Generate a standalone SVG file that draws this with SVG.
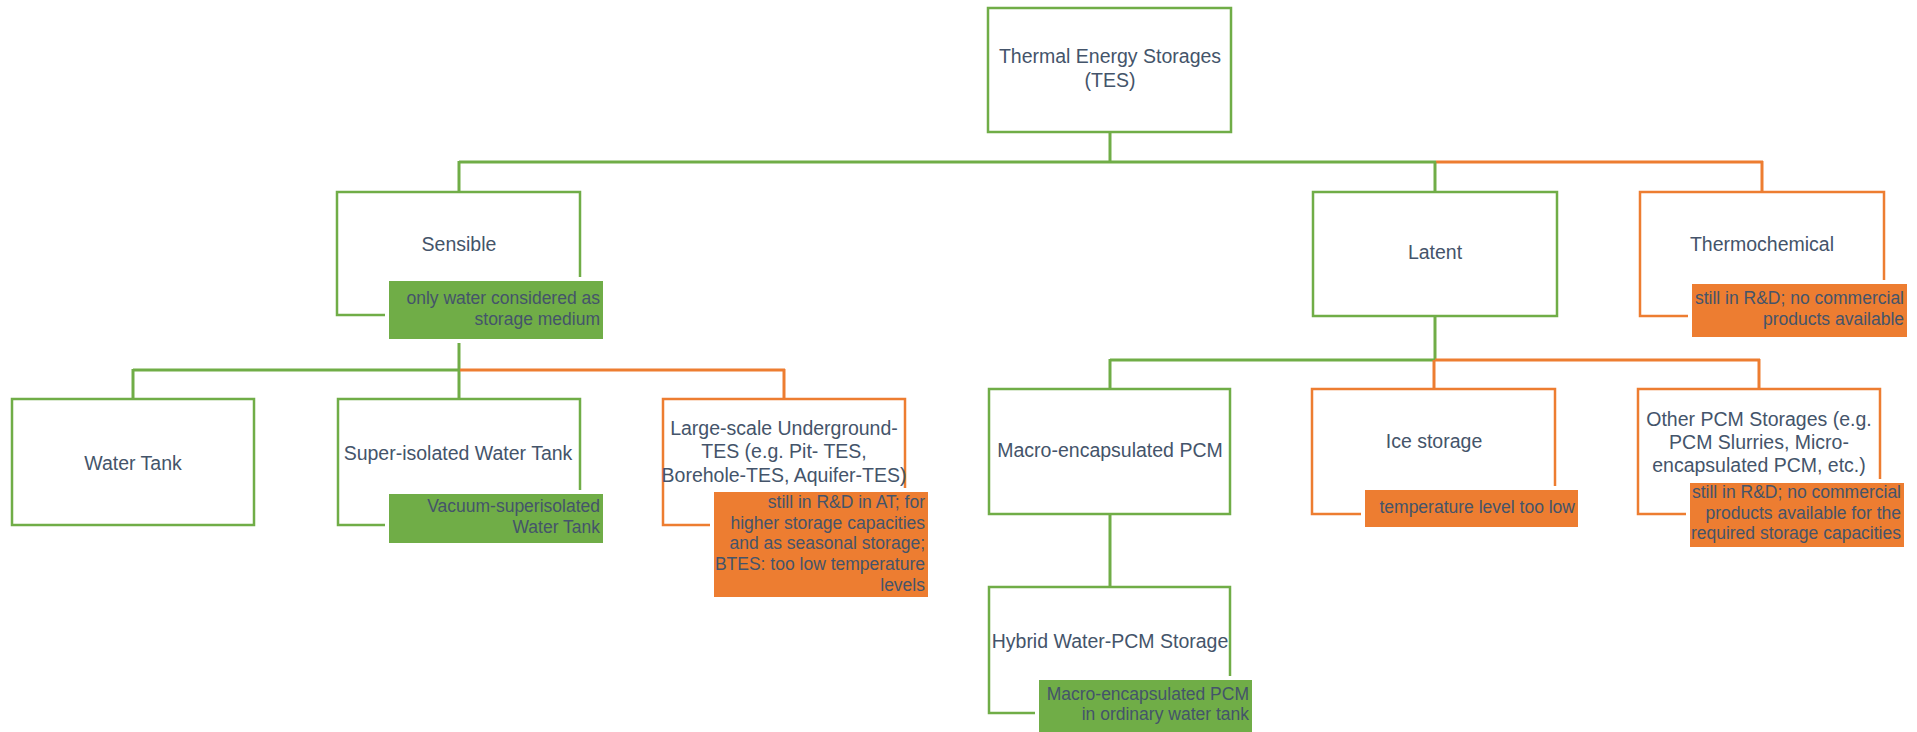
<svg xmlns="http://www.w3.org/2000/svg" width="1917" height="732" viewBox="0 0 1917 732">
<style>
  .bg{fill:#ffffff}
  .g{fill:#ffffff;stroke:#70AD47;stroke-width:2.5}
  .o{fill:#ffffff;stroke:#ED7D31;stroke-width:2.5}
  .cg{stroke:#70AD47;stroke-width:3;fill:none}
  .co{stroke:#ED7D31;stroke-width:3;fill:none}
  .ng{fill:#70AD47;stroke:#ffffff;stroke-width:8;paint-order:stroke}
  .no{fill:#ED7D31;stroke:#ffffff;stroke-width:8;paint-order:stroke}
  .t{font-family:"Liberation Sans",Arial,sans-serif;font-size:19.5px;fill:#44546A;text-anchor:middle}
  .n{font-family:"Liberation Sans",Arial,sans-serif;font-size:17.5px;fill:#44546A;text-anchor:end}
</style>
<rect class="bg" x="0" y="0" width="1917" height="732"/>
<g id="connectors">
  <line class="cg" x1="1110" y1="132" x2="1110" y2="162"/>
  <line class="cg" x1="459" y1="162" x2="1436" y2="162"/>
  <line class="co" x1="1436" y1="162" x2="1763" y2="162"/>
  <line class="cg" x1="459" y1="161" x2="459" y2="192"/>
  <line class="cg" x1="1435" y1="162" x2="1435" y2="192"/>
  <line class="co" x1="1762" y1="161" x2="1762" y2="192"/>
  <line class="cg" x1="459" y1="343" x2="459" y2="399"/>
  <line class="cg" x1="133" y1="370" x2="460" y2="370"/>
  <line class="co" x1="460" y1="370" x2="785" y2="370"/>
  <line class="cg" x1="133" y1="369" x2="133" y2="399"/>
  <line class="co" x1="784" y1="369" x2="784" y2="399"/>
  <line class="cg" x1="1435" y1="316" x2="1435" y2="360"/>
  <line class="cg" x1="1110" y1="360" x2="1435" y2="360"/>
  <line class="co" x1="1435" y1="360" x2="1760" y2="360"/>
  <line class="cg" x1="1110" y1="359" x2="1110" y2="389"/>
  <line class="co" x1="1434" y1="360" x2="1434" y2="389"/>
  <line class="co" x1="1759" y1="359" x2="1759" y2="389"/>
  <line class="cg" x1="1110" y1="514" x2="1110" y2="587"/>
</g>
<g id="tes">
  <rect class="g" x="988" y="8" width="243" height="124"/>
  <text class="t" x="1110" y="63">Thermal Energy Storages</text>
  <text class="t" x="1110" y="87">(TES)</text>
</g>
<g id="sensible">
  <rect class="g" x="337" y="192" width="243" height="123"/>
  <text class="t" x="459" y="251">Sensible</text>
  <rect class="ng" x="389" y="281" width="214" height="58"/>
  <text class="n" x="600" y="304">only water considered as</text>
  <text class="n" x="600" y="325">storage medium</text>
</g>
<g id="latent">
  <rect class="g" x="1313" y="192" width="244" height="124"/>
  <text class="t" x="1435" y="259">Latent</text>
</g>
<g id="thermochemical">
  <rect class="o" x="1640" y="192" width="244" height="124"/>
  <text class="t" x="1762" y="251">Thermochemical</text>
  <rect class="no" x="1692" y="284" width="215" height="53"/>
  <text class="n" x="1904" y="304">still in R&amp;D; no commercial</text>
  <text class="n" x="1904" y="325">products available</text>
</g>
<g id="water-tank">
  <rect class="g" x="12" y="399" width="242" height="126"/>
  <text class="t" x="133" y="470">Water Tank</text>
</g>
<g id="super-isolated">
  <rect class="g" x="338" y="399" width="242" height="126"/>
  <text class="t" x="458" y="460">Super-isolated Water Tank</text>
  <rect class="ng" x="389" y="494" width="214" height="49"/>
  <text class="n" x="600" y="512">Vacuum-superisolated</text>
  <text class="n" x="600" y="533">Water Tank</text>
</g>
<g id="large-scale">
  <rect class="o" x="663" y="399" width="242" height="126"/>
  <text class="t" x="784" y="435">Large-scale Underground-</text>
  <text class="t" x="784" y="458">TES (e.g. Pit- TES,</text>
  <text class="t" x="784" y="482">Borehole-TES, Aquifer-TES)</text>
  <rect class="no" x="714" y="492" width="214" height="105"/>
  <text class="n" x="925" y="508">still in R&amp;D in AT; for</text>
  <text class="n" x="925" y="529">higher storage capacities</text>
  <text class="n" x="925" y="549">and as seasonal storage;</text>
  <text class="n" x="925" y="570">BTES: too low temperature</text>
  <text class="n" x="925" y="591">levels</text>
</g>
<g id="macro">
  <rect class="g" x="989" y="389" width="241" height="125"/>
  <text class="t" x="1110" y="457">Macro-encapsulated PCM</text>
</g>
<g id="hybrid">
  <rect class="g" x="989" y="587" width="241" height="126"/>
  <text class="t" x="1110" y="648">Hybrid Water-PCM Storage</text>
  <rect class="ng" x="1039" y="680" width="213" height="56"/>
  <text class="n" x="1249" y="700">Macro-encapsulated PCM</text>
  <text class="n" x="1249" y="720">in ordinary water tank</text>
</g>
<g id="ice">
  <rect class="o" x="1312" y="389" width="243" height="125"/>
  <text class="t" x="1434" y="448">Ice storage</text>
  <rect class="no" x="1365" y="490" width="213" height="37"/>
  <text class="n" x="1575" y="513">temperature level too low</text>
</g>
<g id="other-pcm">
  <rect class="o" x="1638" y="389" width="242" height="125"/>
  <text class="t" x="1759" y="426">Other PCM Storages (e.g.</text>
  <text class="t" x="1759" y="449">PCM Slurries, Micro-</text>
  <text class="t" x="1759" y="472">encapsulated PCM, etc.)</text>
  <rect class="no" x="1690" y="483" width="214" height="64"/>
  <text class="n" x="1901" y="498">still in R&amp;D; no commercial</text>
  <text class="n" x="1901" y="519">products available for the</text>
  <text class="n" x="1901" y="539">required storage capacities</text>
</g>
</svg>
